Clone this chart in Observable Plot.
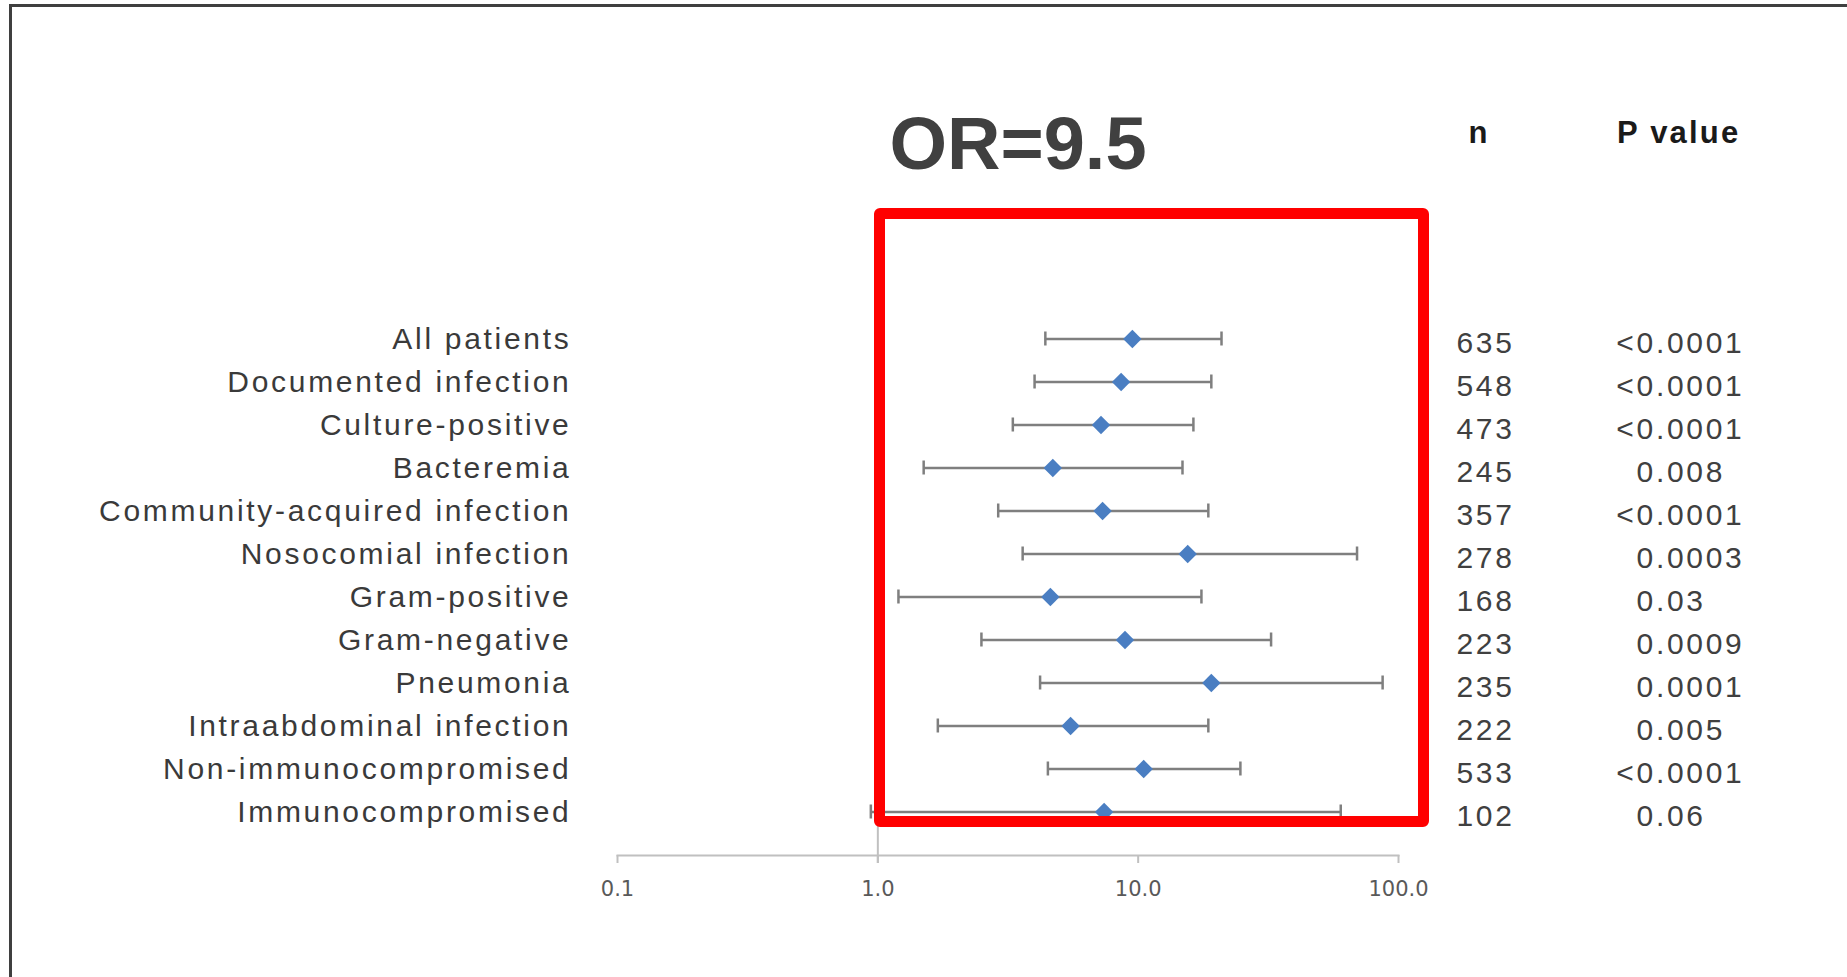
<!DOCTYPE html>
<html>
<head>
<meta charset="utf-8">
<script src="https://cdn.jsdelivr.net/npm/d3@7"></script>
<script src="https://cdn.jsdelivr.net/npm/@observablehq/plot@0.6"></script>
<style>
  html, body { margin: 0; padding: 0; background: #ffffff; }
  #wrap { position: relative; width: 1847px; height: 977px; overflow: hidden; background: #fff; }
  #wrap svg { position: absolute; left: 0; top: 0; }
  .ov { position: absolute; }
  .hdr { font-family: "Liberation Sans", Arial, sans-serif; font-weight: bold; color: #1a1a1a; white-space: nowrap; line-height: normal; }
</style>
</head>
<body>
<div id="wrap">
  <div class="ov" style="left:9px;top:4px;width:1838px;height:3px;background:#3f3f3f"></div>
  <div class="ov" style="left:9px;top:4px;width:3px;height:973px;background:#3f3f3f"></div>
  <div class="ov hdr" id="title" style="left:1018px;top:101px;transform:translateX(-50%);font-size:74px;color:#404040;z-index:2">OR=9.5</div>
  <div class="ov hdr" style="left:1479px;top:115px;transform:translateX(-50%);font-size:31px;letter-spacing:2px;z-index:2">n</div>
  <div class="ov hdr" style="left:1617px;top:115px;font-size:31px;letter-spacing:2.2px;z-index:2">P value</div>
  <div class="ov" style="left:874px;top:208px;width:555px;height:619px;box-sizing:border-box;border:11px solid #ff0000;border-radius:6px;z-index:3"></div>
</div>
<script>
// ---- data ----
const labels = ["All patients", "Documented infection", "Culture-positive", "Bacteremia",
  "Community-acquired infection", "Nosocomial infection", "Gram-positive", "Gram-negative",
  "Pneumonia", "Intraabdominal infection", "Non-immunocompromised", "Immunocompromised"];
const oddsRatio = [9.5, 8.6, 7.2, 4.7, 7.3, 15.5, 4.6, 8.9, 19.1, 5.5, 10.5, 7.4];
const ciLow  = [4.4, 4.0, 3.3, 1.5, 2.9, 3.6, 1.2, 2.5, 4.2, 1.7, 4.5, 0.94];
const ciHigh = [20.9, 19.1, 16.3, 14.8, 18.6, 69.3, 17.5, 32.4, 86.9, 18.6, 24.7, 60.0];
const nValues = [635, 548, 473, 245, 357, 278, 168, 223, 235, 222, 533, 102];
const pValues = ["<0.0001", "<0.0001", "<0.0001", "0.008", "<0.0001", "0.0003", "0.03",
  "0.0009", "0.0001", "0.005", "<0.0001", "0.06"];
const xTicks = [0.1, 1, 10, 100];

const rows = labels.map((label, i) => ({
  label, or: oddsRatio[i], lo: ciLow[i], hi: ciHigh[i], n: nValues[i],
  p: pValues[i], pNum: pValues[i].replace("<", ""), pPre: pValues[i].startsWith("<") ? "<" : ""
}));

const sans = "Liberation Sans, Arial, sans-serif";
const barColor = "#7f7f7f";

const chart = Plot.plot({
  width: 1847,
  height: 977,
  marginLeft: 617,
  marginRight: 449,
  marginTop: 295,
  marginBottom: 122,
  style: {background: "transparent", fontFamily: sans},
  x: {type: "log", domain: [0.1, 100], label: null},
  y: {type: "band", domain: labels, paddingInner: 0, paddingOuter: 0.5, axis: null},
  marks: [
    Plot.ruleX([1], {stroke: "#c0c0c0", strokeWidth: 2, insetBottom: -8}),
    Plot.frame({anchor: "bottom", stroke: "#c0c0c0", strokeWidth: 2}),
    Plot.axisX({
      ticks: xTicks, tickFormat: d => d.toFixed(1), tickSize: 8, tickPadding: 18,
      stroke: "#c0c0c0", strokeWidth: 2, fill: "#595959", fontSize: 21,
      fontFamily: "DejaVu Sans, sans-serif", label: null
    }),
    Plot.ruleY(rows, {y: "label", x1: "lo", x2: "hi", stroke: barColor, strokeWidth: 2.5}),
    Plot.tickX(rows, {y: "label", x: "lo", stroke: barColor, strokeWidth: 2.5, insetTop: 14.5, insetBottom: 14.5}),
    Plot.tickX(rows, {y: "label", x: "hi", stroke: barColor, strokeWidth: 2.5, insetTop: 14.5, insetBottom: 14.5}),
    Plot.dot(rows, {y: "label", x: "or", symbol: "diamond2", r: 8.3, fill: "#4a7ec2", stroke: null}),
    Plot.text(rows, {y: "label", text: "label", frameAnchor: "left", textAnchor: "end", dx: -46,
      fontSize: 30, fill: "#3a3a3a", fontFamily: sans}),
    Plot.text(rows, {y: "label", text: "n", frameAnchor: "right", textAnchor: "middle", dx: 87, dy: 4,
      fontSize: 30, fill: "#404040", fontFamily: sans}),
    Plot.text(rows, {y: "label", text: "pNum", frameAnchor: "right", textAnchor: "start", dx: 238, dy: 4,
      fontSize: 30, fill: "#404040", fontFamily: sans}),
    Plot.text(rows, {y: "label", text: "pPre", frameAnchor: "right", textAnchor: "end", dx: 238, dy: 4,
      fontSize: 30, fill: "#404040", fontFamily: sans})
  ]
});

d3.select(chart).selectAll('g[aria-label="text"]').style("letter-spacing", "2.7px");
document.getElementById("wrap").insertBefore(chart, document.getElementById("wrap").firstChild);
</script>
</body>
</html>
